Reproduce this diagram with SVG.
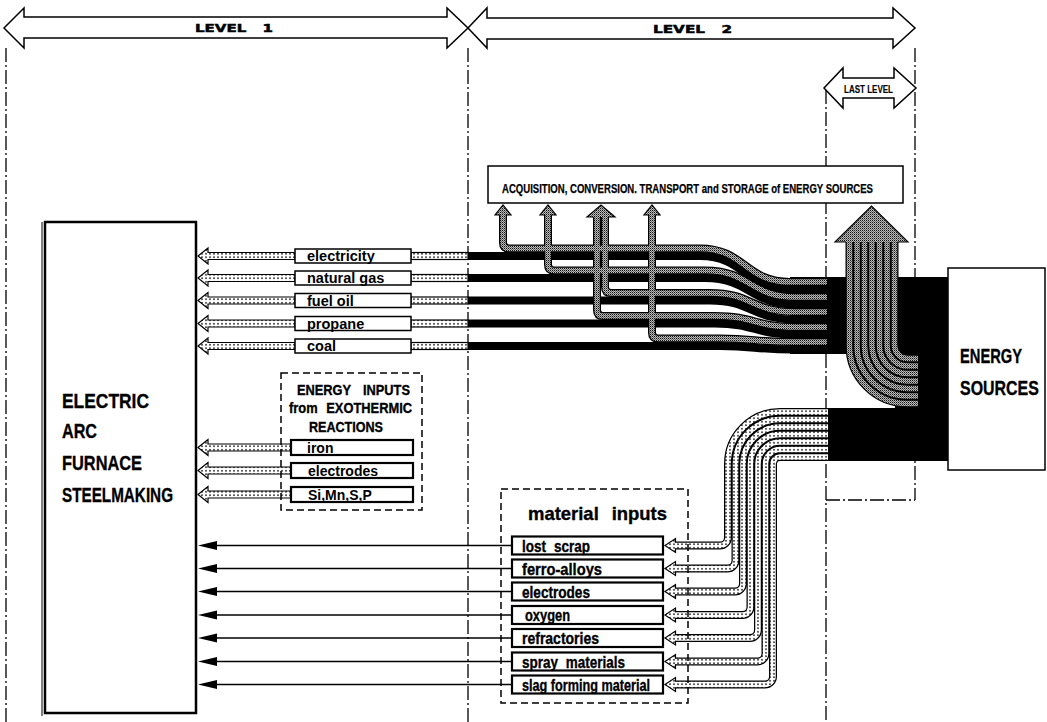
<svg xmlns="http://www.w3.org/2000/svg" width="1047" height="722" viewBox="0 0 1047 722">
<defs>
<pattern id="dots" width="4" height="3.5" patternUnits="userSpaceOnUse"><rect width="4" height="3.5" fill="#fff"/><circle cx="2" cy="1.75" r="0.85" fill="#000"/></pattern>
<pattern id="halftone" width="2" height="2" patternUnits="userSpaceOnUse"><rect width="2" height="2" fill="#bdbdbd"/><rect width="1" height="1" fill="#111"/><rect x="1" y="1" width="1" height="1" fill="#666"/></pattern>
<style>
.cond{font-family:'Liberation Sans Narrow','Liberation Sans',Arial,sans-serif;font-weight:bold;fill:#000;stroke:#000;stroke-width:0.35}
.sans{font-family:'Liberation Sans',Arial,sans-serif;font-weight:bold;fill:#000}
.wide{font-family:'DejaVu Sans',Verdana,sans-serif;font-weight:bold;fill:#000;stroke:#000;stroke-width:0.5}
.dash{fill:none;stroke:#000;stroke-width:1.3;stroke-dasharray:14 3 2 3}
.dbox{fill:none;stroke:#000;stroke-width:1.5;stroke-dasharray:7 4}
.bx{fill:#fff;stroke:#000;stroke-width:1.5}
.bx2{fill:#fff;stroke:#000;stroke-width:2.2}
.bar{fill:none;stroke:#000;stroke-width:8}
.po{fill:none;stroke:#000;stroke-width:8}
.pi{fill:none;stroke:url(#halftone);stroke-width:5.5}
.di{fill:none;stroke:url(#dots);stroke-width:5.5}
.hol{fill:url(#dots);stroke:#000;stroke-width:1.2}
.ghead{fill:url(#halftone);stroke:#000;stroke-width:1.2}
.ln{stroke:#000;stroke-width:1.6}
</style>
</defs>
<rect width="1047" height="722" fill="#fff"/>

<g id="boundaries">
<line class="dash" x1="6" y1="48" x2="6" y2="722"/>
<line class="dash" x1="468" y1="48" x2="468" y2="722"/>
<line class="dash" x1="915" y1="48" x2="915" y2="500"/>
<line class="dash" x1="826" y1="90" x2="826" y2="722"/>
<line class="dash" x1="826" y1="500" x2="915" y2="500"/>
</g>

<g id="level1">
<path class="bx" d="M4,28 L24,8 V17 H447 V8 L468,28 L447,48 V38 H24 V48 Z"/>
<text class="wide" x="195" y="32" font-size="11" textLength="78" lengthAdjust="spacingAndGlyphs" word-spacing="8">LEVEL 1</text>
</g>
<g id="level2">
<path class="bx" d="M468,28 L487,8 V18 H893 V8 L915,28 L893,48 V39 H487 V48 Z"/>
<text class="wide" x="653" y="33" font-size="11" textLength="79" lengthAdjust="spacingAndGlyphs" word-spacing="8">LEVEL 2</text>
</g>
<g id="lastlevel">
<path class="bx" d="M824,88 L843,68 V78 H894 V68 L916,88 L894,108 V98 H843 V108 Z"/>
<text class="cond" x="844" y="93" font-size="11" textLength="49" lengthAdjust="spacingAndGlyphs" style="stroke-width:0.15">LAST LEVEL</text>
</g>

<g id="acquisition">
<rect class="bx" x="488" y="166" width="415" height="37"/>
<text class="cond" x="502" y="193" font-size="12.5" textLength="371" lengthAdjust="spacingAndGlyphs" style="stroke-width:0.25">ACQUISITION, CONVERSION. TRANSPORT and STORAGE of ENERGY SOURCES</text>
</g>

<g id="furnace">
<line x1="42" y1="222" x2="42" y2="716" stroke="#000" stroke-width="1"/>
<rect x="45" y="222" width="151" height="491" fill="#fff" stroke="#000" stroke-width="2.5"/>
<text class="cond" x="62" y="408" font-size="21" textLength="87" lengthAdjust="spacingAndGlyphs">ELECTRIC</text>
<text class="cond" x="62" y="438" font-size="21" textLength="35" lengthAdjust="spacingAndGlyphs">ARC</text>
<text class="cond" x="62" y="470" font-size="21" textLength="80" lengthAdjust="spacingAndGlyphs">FURNACE</text>
<text class="cond" x="62" y="502" font-size="21" textLength="111" lengthAdjust="spacingAndGlyphs">STEELMAKING</text>
</g>

<g id="connectors">
<rect x="790" y="277" width="158" height="77" fill="#000"/>
<rect x="895" y="350" width="53" height="60" fill="#000"/>
<rect x="828" y="408" width="120" height="53" fill="#000"/>
<path class="bar" d="M468,256 H700 C745,256 745,289.5 790,289.5 H900"/>
<path class="bar" d="M468,278 H705 C750,278 750,304.5 795,304.5 H900"/>
<path class="bar" d="M468,300.5 H710 C752,300.5 752,319.5 795,319.5 H900"/>
<path class="bar" d="M468,323.5 H715 C755,323.5 755,334.5 795,334.5 H900"/>
<path class="bar" d="M468,346 H720 C755,346 755,349.5 795,349.5 H900"/>
<path class="po" d="M503,215 V242.5 Q503,248.5 509,248.5 H700 C745,248.5 745,282 790,282 H827"/>
<path class="po" d="M548,215 V264.5 Q548,270.5 554,270.5 H705 C750,270.5 750,297 795,297 H827"/>
<path class="po" d="M605,217 V287 Q605,293 611,293 H710 C752,293 752,312 795,312 H827"/>
<path class="po" d="M597,217 V310 Q597,316 603,316 H715 C755,316 755,327 795,327 H827"/>
<path class="po" d="M652,215 V332.5 Q652,338.5 658,338.5 H720 C755,338.5 755,342 795,342 H827"/>
<path class="pi" d="M503,215 V242.5 Q503,248.5 509,248.5 H700 C745,248.5 745,282 790,282 H827"/>
<path class="pi" d="M548,215 V264.5 Q548,270.5 554,270.5 H705 C750,270.5 750,297 795,297 H827"/>
<path class="pi" d="M605,217 V287 Q605,293 611,293 H710 C752,293 752,312 795,312 H827"/>
<path class="pi" d="M597,217 V310 Q597,316 603,316 H715 C755,316 755,327 795,327 H827"/>
<path class="pi" d="M652,215 V332.5 Q652,338.5 658,338.5 H720 C755,338.5 755,342 795,342 H827"/>
<path class="ghead" d="M500.25,215 H495 L503,205 L511,215 H505.75"/>
<path class="ghead" d="M545.25,215 H540 L548,205 L556,215 H550.75"/>
<path class="ghead" d="M593.25,217 H587 L601,205 L615,217 H608.75"/>
<path class="ghead" d="M649.25,215 H644 L652,205 L660,215 H654.75"/>
<g class="po">
<path d="M849.5,242 V345.5 A58 58 0 0 0 907.5,403.5 H918"/>
<path d="M857,242 V345.5 A50.5 50.5 0 0 0 907.5,396 H918"/>
<path d="M864.5,242 V345.5 A43 43 0 0 0 907.5,388.5 H918"/>
<path d="M872,242 V345.5 A35.5 35.5 0 0 0 907.5,381 H918"/>
<path d="M879.5,242 V345.5 A28 28 0 0 0 907.5,373.5 H918"/>
<path d="M887,242 V345.5 A20.5 20.5 0 0 0 907.5,366 H918"/>
<path d="M894.5,242 V345.5 A13 13 0 0 0 907.5,358.5 H918"/>
</g>
<g class="pi">
<path d="M849.5,242 V345.5 A58 58 0 0 0 907.5,403.5 H918"/>
<path d="M857,242 V345.5 A50.5 50.5 0 0 0 907.5,396 H918"/>
<path d="M864.5,242 V345.5 A43 43 0 0 0 907.5,388.5 H918"/>
<path d="M872,242 V345.5 A35.5 35.5 0 0 0 907.5,381 H918"/>
<path d="M879.5,242 V345.5 A28 28 0 0 0 907.5,373.5 H918"/>
<path d="M887,242 V345.5 A20.5 20.5 0 0 0 907.5,366 H918"/>
<path d="M894.5,242 V345.5 A13 13 0 0 0 907.5,358.5 H918"/>
</g>
<path class="ghead" d="M846,242 H835 L871.5,206 L908,242 H898"/>
<path class="hol" d="M198,256 L208,248 V252.5 H295 V259.5 H208 V264 Z"/>
<path class="hol" d="M198,278 L208,270 V274.5 H295 V281.5 H208 V286 Z"/>
<path class="hol" d="M198,300.5 L208,292.5 V297 H295 V304 H208 V308.5 Z"/>
<path class="hol" d="M198,323.5 L208,315.5 V320 H295 V327 H208 V331.5 Z"/>
<path class="hol" d="M198,346 L208,338 V342.5 H295 V349.5 H208 V354 Z"/>
<rect class="hol" x="411" y="252.5" width="57" height="7"/>
<rect class="hol" x="411" y="274.5" width="57" height="7"/>
<rect class="hol" x="411" y="297" width="57" height="7"/>
<rect class="hol" x="411" y="320" width="57" height="7"/>
<rect class="hol" x="411" y="342.5" width="57" height="7"/>
<path class="hol" d="M198,447.5 L208,439.5 V444 H291 V451 H208 V455.5 Z"/>
<path class="hol" d="M198,470.5 L208,462.5 V467 H291 V474 H208 V478.5 Z"/>
<path class="hol" d="M198,494.5 L208,486.5 V491 H291 V498 H208 V502.5 Z"/>
<g class="po">
<path d="M828,412 H780 A52 52 0 0 0 728,464 V537.5 A8 8 0 0 1 720,545.5 H675"/>
<path d="M828,419.5 H780 A44.5 44.5 0 0 0 735.5,464 V560.5 A8 8 0 0 1 727.5,568.5 H675"/>
<path d="M828,427 H780 A37 37 0 0 0 743,464 V583.5 A8 8 0 0 1 735,591.5 H675"/>
<path d="M828,434.5 H780 A29.5 29.5 0 0 0 750.5,464 V607 A8 8 0 0 1 742.5,615 H675"/>
<path d="M828,442 H780 A22 22 0 0 0 758,464 V630 A8 8 0 0 1 750,638 H675"/>
<path d="M828,449.5 H780 A14.5 14.5 0 0 0 765.5,464 V653.5 A8 8 0 0 1 757.5,661.5 H675"/>
<path d="M828,457 H780 A7 7 0 0 0 773,464 V676.5 A8 8 0 0 1 765,684.5 H675"/>
</g>
<g class="di">
<path d="M828,412 H780 A52 52 0 0 0 728,464 V537.5 A8 8 0 0 1 720,545.5 H675"/>
<path d="M828,419.5 H780 A44.5 44.5 0 0 0 735.5,464 V560.5 A8 8 0 0 1 727.5,568.5 H675"/>
<path d="M828,427 H780 A37 37 0 0 0 743,464 V583.5 A8 8 0 0 1 735,591.5 H675"/>
<path d="M828,434.5 H780 A29.5 29.5 0 0 0 750.5,464 V607 A8 8 0 0 1 742.5,615 H675"/>
<path d="M828,442 H780 A22 22 0 0 0 758,464 V630 A8 8 0 0 1 750,638 H675"/>
<path d="M828,449.5 H780 A14.5 14.5 0 0 0 765.5,464 V653.5 A8 8 0 0 1 757.5,661.5 H675"/>
<path d="M828,457 H780 A7 7 0 0 0 773,464 V676.5 A8 8 0 0 1 765,684.5 H675"/>
</g>
<path class="hol" d="M675.5,542.75 V538.5 L665,545.5 L675.5,552.5 V548.25"/>
<path class="hol" d="M675.5,565.75 V561.5 L665,568.5 L675.5,575.5 V571.25"/>
<path class="hol" d="M675.5,588.75 V584.5 L665,591.5 L675.5,598.5 V594.25"/>
<path class="hol" d="M675.5,612.25 V608 L665,615 L675.5,622 V617.75"/>
<path class="hol" d="M675.5,635.25 V631 L665,638 L675.5,645 V640.75"/>
<path class="hol" d="M675.5,658.75 V654.5 L665,661.5 L675.5,668.5 V664.25"/>
<path class="hol" d="M675.5,681.75 V677.5 L665,684.5 L675.5,691.5 V687.25"/>
<g class="ln">
<line x1="512" y1="545.5" x2="214" y2="545.5"/>
<line x1="512" y1="568.5" x2="214" y2="568.5"/>
<line x1="512" y1="591.5" x2="214" y2="591.5"/>
<line x1="512" y1="615" x2="214" y2="615"/>
<line x1="512" y1="638" x2="214" y2="638"/>
<line x1="512" y1="661.5" x2="214" y2="661.5"/>
<line x1="512" y1="684.5" x2="214" y2="684.5"/>
</g>
<g fill="#000">
<polygon points="198,545.5 217,541 217,550"/>
<polygon points="198,568.5 217,564 217,573"/>
<polygon points="198,591.5 217,587 217,596"/>
<polygon points="198,615 217,610.5 217,619.5"/>
<polygon points="198,638 217,633.5 217,642.5"/>
<polygon points="198,661.5 217,657 217,666"/>
<polygon points="198,684.5 217,680 217,689"/>
</g>
</g>

<g id="energy-sources">
<rect x="948" y="268" width="97" height="202" fill="#fff" stroke="#000" stroke-width="1.5"/>
<text class="cond" transform="translate(960,363) scale(0.7,1)" font-size="21">ENERGY</text>
<text class="cond" transform="translate(960,395) scale(0.76,1)" font-size="21">SOURCES</text>
</g>

<g id="energy-labels">
<rect class="bx" x="295" y="249" width="116" height="14"/>
<rect class="bx" x="295" y="271" width="116" height="14"/>
<rect class="bx" x="295" y="293.5" width="116" height="14"/>
<rect class="bx" x="295" y="316.5" width="116" height="14"/>
<rect class="bx" x="295" y="339" width="116" height="14"/>
<text class="sans" x="307" y="261" font-size="14.5">electricity</text>
<text class="sans" x="307" y="283" font-size="14.5">natural gas</text>
<text class="sans" x="307" y="305.5" font-size="14.5">fuel oil</text>
<text class="sans" x="307" y="328.5" font-size="14.5">propane</text>
<text class="sans" x="307" y="351" font-size="14.5">coal</text>
</g>

<g id="exothermic">
<rect class="dbox" x="281" y="373" width="141" height="137"/>
<text class="cond" x="297" y="395" font-size="15" textLength="113" lengthAdjust="spacingAndGlyphs" word-spacing="10">ENERGY INPUTS</text>
<text class="cond" x="289" y="413" font-size="15" textLength="123" lengthAdjust="spacingAndGlyphs" word-spacing="6">from EXOTHERMIC</text>
<text class="cond" x="309" y="432" font-size="15" textLength="74" lengthAdjust="spacingAndGlyphs">REACTIONS</text>
<rect class="bx2" x="291" y="440" width="122" height="15"/>
<rect class="bx2" x="291" y="463" width="122" height="15"/>
<rect class="bx2" x="291" y="487" width="122" height="15"/>
<text class="sans" x="307" y="452.5" font-size="14">iron</text>
<text class="sans" x="308" y="475.5" font-size="14">electrodes</text>
<text class="sans" x="308" y="499.5" font-size="14">Si,Mn,S,P</text>
</g>

<g id="material-inputs">
<rect class="dbox" x="501" y="489" width="187" height="214"/>
<text class="cond" x="528" y="520" font-size="19" textLength="139" lengthAdjust="spacingAndGlyphs" word-spacing="8">material inputs</text>
<rect class="bx2" x="512" y="536.5" width="151" height="18"/>
<rect class="bx2" x="512" y="559.5" width="151" height="18"/>
<rect class="bx2" x="512" y="582.5" width="151" height="18"/>
<rect class="bx2" x="512" y="606" width="151" height="18"/>
<rect class="bx2" x="512" y="629" width="151" height="18"/>
<rect class="bx2" x="512" y="652.5" width="151" height="18"/>
<rect class="bx2" x="512" y="675.5" width="151" height="18"/>
<text class="cond" x="522" y="551.5" font-size="16" textLength="68" lengthAdjust="spacingAndGlyphs" word-spacing="5">lost scrap</text>
<text class="cond" x="522" y="574.5" font-size="16" textLength="80" lengthAdjust="spacingAndGlyphs">ferro-alloys</text>
<text class="cond" x="522" y="597.5" font-size="16" textLength="68" lengthAdjust="spacingAndGlyphs">electrodes</text>
<text class="cond" x="525" y="621" font-size="16" textLength="45" lengthAdjust="spacingAndGlyphs">oxygen</text>
<text class="cond" x="522" y="644" font-size="16" textLength="77" lengthAdjust="spacingAndGlyphs">refractories</text>
<text class="cond" x="522" y="667.5" font-size="16" textLength="103" lengthAdjust="spacingAndGlyphs" word-spacing="5">spray materials</text>
<text class="cond" x="522" y="690.5" font-size="16" textLength="128" lengthAdjust="spacingAndGlyphs">slag forming material</text>
</g>
</svg>
